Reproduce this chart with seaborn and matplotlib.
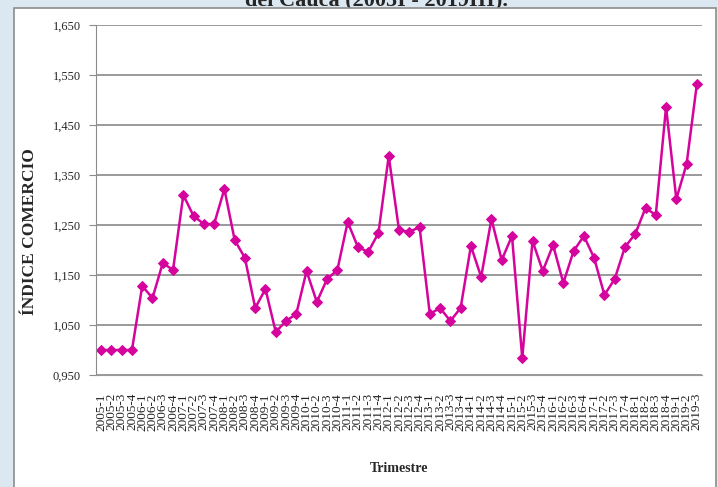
import numpy as np
import pandas as pd
import matplotlib
matplotlib.use("Agg")
import matplotlib.pyplot as plt
from matplotlib.patches import Rectangle
import seaborn as sns

# Quarterly index values
years = list(range(2005, 2020))
quarters = [f"{y}-{q}" for y in years for q in range(1, 5)][:59]
values = [
    1.000, 1.000, 1.000, 1.000,
    1.128, 1.104, 1.174, 1.160,
    1.310, 1.268, 1.252, 1.252,
    1.322, 1.220, 1.184, 1.084,
    1.122, 1.036, 1.058, 1.072,
    1.158, 1.096, 1.142, 1.160,
    1.256, 1.206, 1.196, 1.234,
    1.388, 1.240, 1.236, 1.246,
    1.072, 1.084, 1.058, 1.084,
    1.208, 1.146, 1.262, 1.180,
    1.228, 0.984, 1.218, 1.158,
    1.210, 1.134, 1.198, 1.228,
    1.184, 1.110, 1.142, 1.206,
    1.232, 1.284, 1.270, 1.486,
    1.302, 1.372, 1.532,
]
yticks = [0.950, 1.050, 1.150, 1.250, 1.350, 1.450, 1.550, 1.650]

df = pd.DataFrame({"Trimestre": quarters, "Indice": values})
df["pos"] = np.arange(len(df))

sns.set_style("white")
serif = ["Liberation Serif", "DejaVu Serif"]
plt.rcParams["font.family"] = serif

W, H = 718, 487
fig = plt.figure(figsize=(W / 100, H / 100), dpi=100)
fig.patch.set_facecolor("#dbe7f1")

# white chart box with grey border, on top of the cut-off title
fig.patches.append(Rectangle((14 / W, -0.02), (716 - 14) / W, 1 - 7.5 / H + 0.02,
                             transform=fig.transFigure, facecolor="white",
                             edgecolor="#8c8c8c", linewidth=1.2, zorder=-1))
fig.text(377 / W, 1 - 5 / H, "del Cauca (2005I - 2019III).", ha="center",
         va="baseline", fontsize=16, fontweight="bold", zorder=-2)

ax = fig.add_axes([96 / W, 1 - 375 / H, (702 - 96) / W, 350 / H])
ax.set_facecolor("none")

sns.lineplot(data=df, x="pos", y="Indice", ax=ax, color="#d4049c",
             linewidth=1.8, marker="D", markersize=5, markeredgecolor="#d4049c",
             sort=False)

ax.set_xlim(-0.5, len(df) - 0.5)
ax.set_ylim(yticks[0], yticks[-1])
ax.set_xticks(df["pos"])
ax.set_xticklabels(df["Trimestre"], rotation=90, fontsize=9.5, color="#222222")
ax.set_yticks(yticks)
ax.set_yticklabels([f"{v:.3f}".replace(".", ",") for v in yticks], fontsize=9)

for v in yticks:
    ax.axhline(v, color="#9a9a9a", linewidth=1.4, zorder=0)

for s in ["top", "right"]:
    ax.spines[s].set_visible(False)
ax.spines["left"].set_color("#8c8c8c")
ax.spines["bottom"].set_color("#9a9a9a")
ax.tick_params(axis="y", length=5, color="#8c8c8c", pad=6, left=True)
ax.tick_params(axis="x", length=0, pad=13)

ax.set_xlabel("Trimestre", fontsize=10, fontweight="bold")
ax.xaxis.set_label_coords(0.5, -0.25)
ax.set_ylabel("ÍNDICE COMERCIO", fontsize=12.5, fontweight="bold")
ax.yaxis.set_label_coords(-0.095, 0.41)

fig.savefig("out.png", dpi=100)
